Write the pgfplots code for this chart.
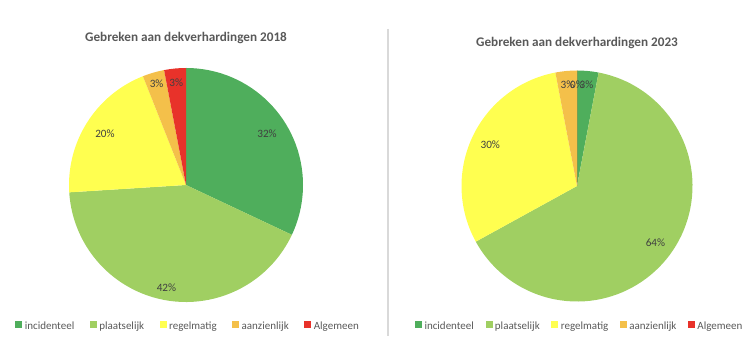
\documentclass[border=0pt]{standalone}
\usepackage{pgfplots}
\usepackage{pgfplotstable}
\pgfplotsset{compat=1.18}
\usepackage{fontspec}
\setmainfont{Carlito}

\definecolor{c0}{HTML}{4FAE5C}
\definecolor{c1}{HTML}{A0CF62}
\definecolor{c2}{HTML}{FFFF50}
\definecolor{c3}{HTML}{F4C04A}
\definecolor{c4}{HTML}{E8322A}
\definecolor{titlegray}{HTML}{595959}
\definecolor{labelgray}{HTML}{404040}
\definecolor{sepgray}{HTML}{D9D9D9}

\newcommand\titlefont{\fontsize{13.2}{15}\selectfont\bfseries}
\newcommand\legfont{\fontsize{11}{13}\selectfont}
\newcommand\labfont{\fontsize{11.2}{13}\selectfont}
\tikzset{pielabel/.style={font=\labfont, text=labelgray, inner sep=0pt}}

% name, value (%), label distance as fraction of radius
\pgfplotstableread{
name val lr
incidenteel 32 0.82
plaatselijk 42 0.89
regelmatig 20 0.82
aanzienlijk 3 0.90
Algemeen 3 0.88
}\dataA

\pgfplotstableread{
name val lr
incidenteel 3 0.88
plaatselijk 64 0.84
regelmatig 30 0.83
aanzienlijk 3 0.88
Algemeen 0 0.88
}\dataB

\newcommand\drawpie[2]{%
  \def\cum{0}%
  \pgfplotsforeachungrouped \i in {0,...,4}{%
    \pgfplotstablegetelem{\i}{val}\of{#1}\let\myv\pgfplotsretval
    \pgfmathsetmacro\aa{90-3.6*\cum}%
    \pgfmathsetmacro\bb{90-3.6*(\cum+\myv)}%
    \pgfmathsetmacro\cum{\cum+\myv}%
    \edef\temp{\noexpand\fill[c\i] (axis cs:0,0) -- ++(\aa:#2pt) arc[start angle=\aa, end angle=\bb, radius=#2pt] -- cycle;}%
    \temp
  }%
  \def\cum{0}%
  \pgfplotsforeachungrouped \i in {0,...,4}{%
    \pgfplotstablegetelem{\i}{val}\of{#1}\let\myv\pgfplotsretval
    \pgfplotstablegetelem{\i}{lr}\of{#1}\let\mylr\pgfplotsretval
    \pgfmathsetmacro\mm{90-3.6*(\cum+\myv/2)}%
    \pgfmathsetmacro\rr{\mylr*#2}%
    \pgfmathsetmacro\cum{\cum+\myv}%
    \edef\temp{\noexpand\node[pielabel, shift={(\mm:\rr pt)}] at (axis cs:0,0) {\myv\noexpand\%};}%
    \temp
  }%
}

\pgfplotsset{
  pieaxis/.style={
    hide axis, clip=false, scale only axis,
    xmin=-1, xmax=1, ymin=-1, ymax=1,
    anchor=center,
    title style={font=\titlefont, text=titlegray, anchor=center},
    legend columns=5,
    legend style={draw=none, fill=none, font=\legfont, text=titlegray, anchor=center,
      nodes={inner sep=0.6pt},
      /tikz/every odd column/.append style={column sep=2.4pt}},
  },
}

\newcommand\pielegendentries{%
  \addlegendimage{legend image code/.code={\fill[c0] (0pt,-0.5pt) rectangle (6pt,5.5pt);}}
  \addlegendimage{legend image code/.code={\fill[c1] (0pt,-0.5pt) rectangle (6pt,5.5pt);}}
  \addlegendimage{legend image code/.code={\fill[c2] (0pt,-0.5pt) rectangle (6pt,5.5pt);}}
  \addlegendimage{legend image code/.code={\fill[c3] (0pt,-0.5pt) rectangle (6pt,5.5pt);}}
  \addlegendimage{legend image code/.code={\fill[c4] (0pt,-0.5pt) rectangle (6pt,5.5pt);}}
  \legend{incidenteel,plaatselijk,regelmatig,aanzienlijk,Algemeen}
}

\begin{document}
\begin{tikzpicture}
\path[use as bounding box] (0,0) rectangle (753pt,339pt);
\draw[sepgray, line width=1.5pt] (388pt,310pt) -- (388pt,3pt);

\begin{axis}[pieaxis,
  width=234pt, height=234pt, at={(186pt,154pt)},
  title={Gebreken aan dekverhardingen 2018},
  title style={at={(0.5,1.103)}},
  legend style={at={(0.506,-0.103)},
    /tikz/every even column/.append style={column sep=15pt}}]
  \pielegendentries
  \drawpie{\dataA}{117}
\end{axis}

\begin{axis}[pieaxis,
  width=231pt, height=231pt, at={(577pt,153pt)},
  title={Gebreken aan dekverhardingen 2023},
  title style={at={(0.5,1.095)}},
  legend style={at={(0.509,-0.106)},
    /tikz/every even column/.append style={column sep=11pt}}]
  \pielegendentries
  \drawpie{\dataB}{115.5}
\end{axis}
\end{tikzpicture}
\end{document}
